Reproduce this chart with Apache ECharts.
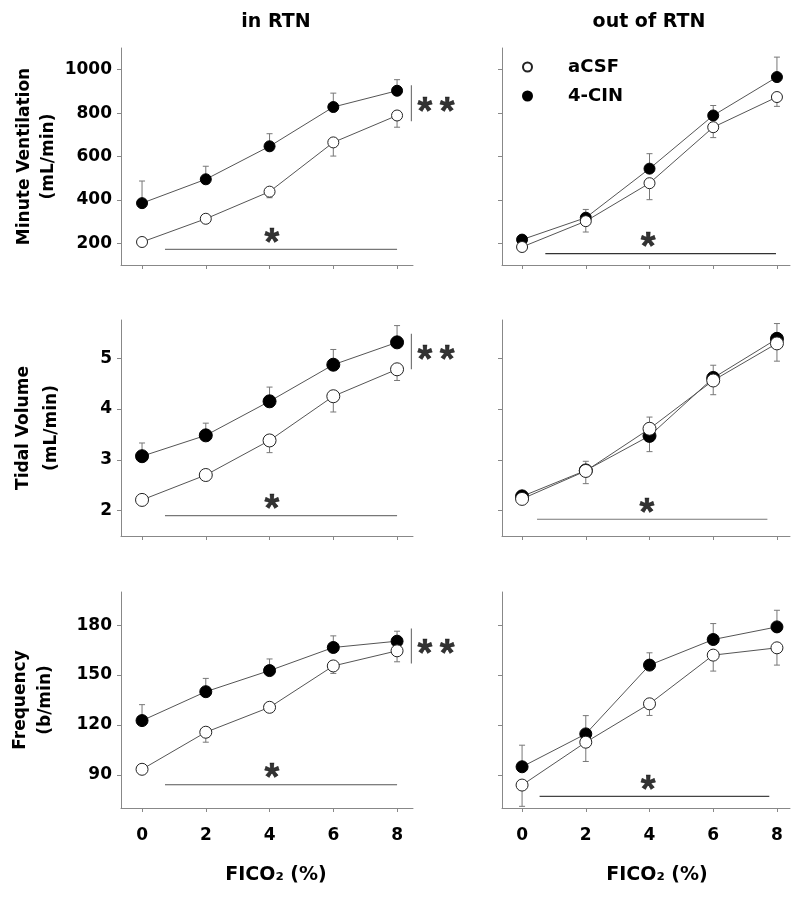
<!DOCTYPE html>
<html>
<head>
<meta charset="utf-8">
<script src="https://cdn.jsdelivr.net/npm/echarts@6/dist/echarts.min.js"></script>
<style>html,body{margin:0;padding:0;background:#fff}#c{width:800px;height:900px}</style>
</head>
<body>
<div id="c"></div>
<script>
// ---- data ----
const fico2 = [0, 2, 4, 6, 8];
const xTicks = [0, 2, 4, 6, 8];
const seriesNames = ['aCSF', '4-CIN'];
const columnTitles = ['in RTN', 'out of RTN'];
const xAxisTitle = 'FICO\u2082 (%)';

// Minute ventilation (mL/min)
const mvTicks = [200, 400, 600, 800, 1000];
const mvInAcsf = [206, 313, 438, 665, 789];
const mvInAcsfErr = [0, 10, 28, 63, 54];
const mvInCin = [385, 495, 647, 828, 903];
const mvInCinErr = [102, 60, 58, 64, 51];
const mvOutAcsf = [183, 302, 477, 735, 874];
const mvOutAcsfErr = [0, 50, 76, 48, 43];
const mvOutCin = [217, 318, 544, 789, 966];
const mvOutCinErr = [0, 38, 69, 46, 92];

// Tidal volume
const tvTicks = [2, 3, 4, 5];
const tvInAcsf = [2.21, 2.70, 3.38, 4.25, 4.78];
const tvInAcsfErr = [0, 0.05, 0.24, 0.31, 0.22];
const tvInCin = [3.07, 3.48, 4.15, 4.87, 5.31];
const tvInCinErr = [0.26, 0.24, 0.28, 0.30, 0.33];
const tvOutAcsf = [2.23, 2.78, 3.61, 4.56, 5.29];
const tvOutAcsfErr = [0.04, 0.25, 0.45, 0.28, 0.35];
const tvOutCin = [2.28, 2.79, 3.47, 4.61, 5.38];
const tvOutCinErr = [0.04, 0.18, 0.37, 0.25, 0.30];

// Frequency (b/min)
const frTicks = [90, 120, 150, 180];
const frInAcsf = [93.3, 115.6, 130.6, 155.5, 164.6];
const frInAcsfErr = [0, 6, 2, 4.5, 6.6];
const frInCin = [122.6, 140, 152.7, 166.6, 170.4];
const frInCinErr = [9.6, 8, 7, 7, 6];
const frOutAcsf = [83.8, 109.6, 132.7, 162, 166.4];
const frOutAcsfErr = [12.8, 11.6, 7, 9.6, 10.4];
const frOutCin = [94.8, 114.6, 156, 171.4, 179];
const frOutCinErr = [13, 11, 7.4, 9.6, 10];

// significance annotations: [xStart, xEnd, y], star x
const mvInSig = [0.72, 8, 172], mvInStarX = 4.07;
const mvOutSig = [0.73, 7.97, 152], mvOutStarX = 3.96;
const tvInSig = [0.72, 8, 1.90], tvInStarX = 4.07;
const tvOutSig = [0.47, 7.7, 1.83], tvOutStarX = 3.92;
const frInSig = [0.72, 8, 84], frInStarX = 4.07;
const frOutSig = [0.55, 7.76, 77], frOutStarX = 3.96;
// group-difference brackets: [x, yTop, yBottom]
const mvInBracket = [8.45, 928, 763];
const tvInBracket = [8.45, 5.48, 4.78];
const frInBracket = [8.45, 178, 157];

// ---- layout ----
const FONT = 'DejaVu Sans';
const STARFONT = 'Liberation Sans';
const rows = [
  {top: 48, height: 217, min: 100, max: 1100, ticks: mvTicks, name: 'Minute Ventilation\n(mL/min)', lh: 24, gap: 60, size: 11},
  {top: 320, height: 216, min: 1.5, max: 5.75, ticks: tvTicks, name: 'Tidal Volume\n(mL/min)', lh: 28, gap: 55, size: 13},
  {top: 592, height: 216, min: 70, max: 200, ticks: frTicks, name: 'Frequency\n(b/min)', lh: 25, gap: 63, size: 12}
];
const cols = [
  {left: 121, width: 292, xmin: -0.66, xmax: 8.5, namePad: 18},
  {left: 502, width: 288, xmin: -0.63, xmax: 8.41, namePad: 22}
];
const panelData = [
  [mvInAcsf, mvInAcsfErr, mvInCin, mvInCinErr, mvInSig, mvInStarX, mvInBracket, '#777'],
  [mvOutAcsf, mvOutAcsfErr, mvOutCin, mvOutCinErr, mvOutSig, mvOutStarX, null, '#333'],
  [tvInAcsf, tvInAcsfErr, tvInCin, tvInCinErr, tvInSig, tvInStarX, tvInBracket, '#777'],
  [tvOutAcsf, tvOutAcsfErr, tvOutCin, tvOutCinErr, tvOutSig, tvOutStarX, null, '#777'],
  [frInAcsf, frInAcsfErr, frInCin, frInCinErr, frInSig, frInStarX, frInBracket, '#555'],
  [frOutAcsf, frOutAcsfErr, frOutCin, frOutCinErr, frOutSig, frOutStarX, null, '#444']
];

const grid = [], xAxis = [], yAxis = [], series = [];

function errRender(params, api) {
  const x = api.value(0), y = api.value(1), t = api.value(2);
  if (y === t) return null;
  const p0 = api.coord([x, y]), p1 = api.coord([x, t]);
  const st = {stroke: '#777', lineWidth: 1};
  return {type: 'group', children: [
    {type: 'line', shape: {x1: p0[0], y1: p0[1], x2: p1[0], y2: p1[1]}, style: st},
    {type: 'line', shape: {x1: p1[0] - 3, y1: p1[1], x2: p1[0] + 3, y2: p1[1]}, style: st}
  ]};
}

const starStyle = {fontWeight: 'bold', fontFamily: STARFONT, fontSize: 38, color: '#000', textBorderColor: '#000', textBorderWidth: 0.5};

rows.forEach((r, ri) => {
  cols.forEach((c, ci) => {
    const i = ri * 2 + ci;
    const bottomRow = ri === rows.length - 1;
    grid.push({left: c.left, top: r.top, width: c.width, height: r.height});
    xAxis.push({
      type: 'value', gridIndex: i, min: c.xmin, max: c.xmax,
      axisLine: {show: true, onZero: false, lineStyle: {color: '#888', width: 1}},
      axisTick: {show: true, length: 4, lineStyle: {color: '#888'}, customValues: xTicks},
      axisLabel: {show: bottomRow, customValues: xTicks, formatter: v => String(v), margin: 19, fontSize: 17, fontWeight: 'bold', fontFamily: FONT, color: '#000'},
      splitLine: {show: false},
      name: bottomRow ? xAxisTitle : '', nameLocation: 'middle', nameGap: 58,
      nameTextStyle: {fontSize: 19, fontWeight: 'bold', fontFamily: FONT, color: '#000', padding: [0, 0, 0, c.namePad]}
    });
    yAxis.push({
      type: 'value', gridIndex: i, min: r.min, max: r.max,
      axisLine: {show: true, onZero: false, lineStyle: {color: '#888', width: 1}},
      axisTick: {show: true, length: 4, lineStyle: {color: '#888'}, customValues: r.ticks},
      axisLabel: {show: ci === 0, customValues: r.ticks, formatter: v => String(v), margin: 9, fontSize: 17, fontWeight: 'bold', fontFamily: FONT, color: '#000'},
      splitLine: {show: false},
      name: ci === 0 ? r.name : '', nameLocation: 'middle', nameGap: r.gap,
      nameTextStyle: {fontSize: 17, fontWeight: 'bold', fontFamily: FONT, color: '#000', lineHeight: r.lh}
    });
    const [acsf, acsfErr, cin, cinErr, sig, starX, bracket, sigColor] = panelData[i];
    // error bars: open points downward, filled points upward
    series.push({
      type: 'custom', xAxisIndex: i, yAxisIndex: i, z: 1, silent: true,
      renderItem: errRender, encode: {x: 0, y: [1, 2]},
      data: fico2.map((x, k) => [x, acsf[k], acsf[k] - acsfErr[k]])
        .concat(fico2.map((x, k) => [x, cin[k], cin[k] + cinErr[k]]))
    });
    series.push({
      name: seriesNames[1], type: 'line', xAxisIndex: i, yAxisIndex: i, z: 3,
      data: fico2.map((x, k) => [x, cin[k]]),
      symbol: 'circle', symbolSize: r.size,
      lineStyle: {color: '#555', width: 1},
      itemStyle: {color: '#000', borderColor: '#000', borderWidth: 1},
      emphasis: {disabled: true}
    });
    series.push({
      name: seriesNames[0], type: 'line', xAxisIndex: i, yAxisIndex: i, z: 4,
      data: fico2.map((x, k) => [x, acsf[k]]),
      symbol: 'circle', symbolSize: r.size,
      lineStyle: {color: '#555', width: 1},
      itemStyle: {color: '#fff', borderColor: '#222', borderWidth: 1},
      emphasis: {disabled: true}
    });
    // significance line with star
    series.push({
      type: 'line', xAxisIndex: i, yAxisIndex: i, z: 2, silent: true,
      data: [[sig[0], sig[2]], [sig[1], sig[2]]], symbol: 'none',
      lineStyle: {color: sigColor, width: 1.2}
    });
    series.push({
      type: 'scatter', xAxisIndex: i, yAxisIndex: i, z: 5, silent: true,
      data: [[starX, sig[2]]], symbolSize: 0,
      label: Object.assign({show: true, position: 'inside', offset: [0, -5], formatter: '*'}, starStyle)
    });
    if (bracket) {
      series.push({
        type: 'line', xAxisIndex: i, yAxisIndex: i, z: 2, silent: true,
        data: [[bracket[0], bracket[1]], [bracket[0], bracket[2]]], symbol: 'none',
        lineStyle: {color: '#777', width: 1.2}
      });
      series.push({
        type: 'scatter', xAxisIndex: i, yAxisIndex: i, z: 5, silent: true, clip: false,
        data: [[bracket[0], (bracket[1] + bracket[2]) / 2]], symbolSize: 0,
        label: Object.assign({show: true, position: 'right', distance: 6, offset: [0, 10], formatter: '*\u2009*'}, starStyle)
      });
    }
  });
});

const chart = echarts.init(document.getElementById('c'), null, {renderer: 'canvas'});
chart.setOption({
  animation: false,
  backgroundColor: '#fff',
  title: [
    {text: columnTitles[0], left: 271, top: 8, textAlign: 'center', textStyle: {fontSize: 19, fontWeight: 'bold', fontFamily: FONT, color: '#000'}},
    {text: columnTitles[1], left: 644, top: 8, textAlign: 'center', textStyle: {fontSize: 19, fontWeight: 'bold', fontFamily: FONT, color: '#000'}}
  ],
  legend: {
    data: seriesNames, orient: 'vertical', left: 517, top: 53,
    icon: 'circle', itemWidth: 9, itemHeight: 9, itemGap: 11,
    selectedMode: false,
    textStyle: {fontSize: 18, fontWeight: 'bold', fontFamily: FONT, color: '#000', padding: [0, 0, 0, 31]}
  },
  grid, xAxis, yAxis, series
});
</script>
</body>
</html>
